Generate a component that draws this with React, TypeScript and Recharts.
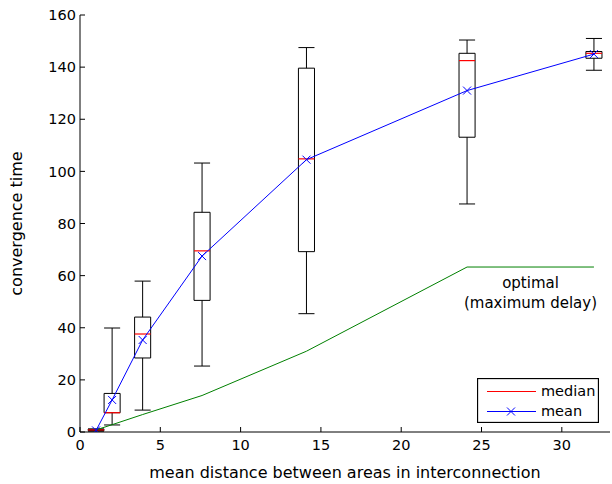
import React from 'react'
import {
  ComposedChart,
  Line,
  XAxis,
  YAxis,
  ReferenceArea,
  ReferenceLine,
  ReferenceDot,
  Legend,
  Label,
} from 'recharts'

// box statistics per mean distance
const distances = [1, 2, 3.9, 7.6, 14.1, 24.1, 32]
const whiskerLow = [0.3, 2.7, 8.4, 25.3, 45.4, 87.5, 138.8]
const quartile1 = [0.6, 7.4, 28.4, 50.5, 69.2, 113.1, 143.4]
const medians = [0.8, 7.4, 37.6, 69.5, 104.8, 142.5, 145.3]
const quartile3 = [1.0, 14.8, 44.1, 84.3, 139.6, 145.3, 146]
const whiskerHigh = [1.2, 39.9, 57.9, 103.2, 147.5, 150.4, 151]
const means = [0.6, 12.3, 35.3, 67.5, 104.5, 131, 145]

// optimal (maximum delay)
const optimalX = [1, 2, 3.9, 7.6, 14.1, 24.1, 32]
const optimalY = [0.8, 2.8, 6.7, 14, 31, 63.3, 63.3]

const xTicks = [0, 5, 10, 15, 20, 25, 30]
const yTicks = [0, 20, 40, 60, 80, 100, 120, 140, 160]

const FONT = 'DejaVu Sans'
const BOX_HALF = 0.5

const meanData = distances.map((x, i) => ({ x, y: means[i] }))
const optimalData = optimalX.map((x, i) => ({ x, y: optimalY[i] }))

function XMark({ cx, cy, color = '#0000ff' }: { cx: number; cy: number; color?: string }) {
  const s = 4
  return (
    <g>
      <line x1={cx - s} y1={cy - s} x2={cx + s} y2={cy + s} stroke={color} strokeWidth={1} />
      <line x1={cx - s} y1={cy + s} x2={cx + s} y2={cy - s} stroke={color} strokeWidth={1} />
    </g>
  )
}

function renderMeanDot(props: any) {
  const { cx, cy, index } = props
  if (cx == null || cy == null) return <g key={`d-${index}`} />
  return (
    <g key={`d-${index}`}>
      <XMark cx={cx} cy={cy} />
    </g>
  )
}

function LegendBox() {
  return (
    <svg width={122} height={45} style={{ display: 'block' }}>
      <rect x={0.5} y={0.5} width={121} height={44} fill="#fff" stroke="#000" strokeWidth={1.3} />
      <line x1={10} x2={59} y1={13.5} y2={13.5} stroke="#ff0000" strokeWidth={1.2} />
      <text x={64} y={18} fontFamily={FONT} fontSize={14.5} fill="#000">
        median
      </text>
      <line x1={10} x2={59} y1={33.5} y2={33.5} stroke="#0000ff" strokeWidth={1} />
      <XMark cx={34} cy={33.5} />
      <text x={64} y={38} fontFamily={FONT} fontSize={14.5} fill="#000">
        mean
      </text>
    </svg>
  )
}

function OptimalLabel(props: any) {
  const { x, y } = props.viewBox
  return (
    <g fontFamily={FONT} fontSize={15} fill="#000" textAnchor="middle">
      <text x={x} y={y + 21}>optimal</text>
      <text x={x} y={y + 41}>(maximum delay)</text>
    </g>
  )
}

function XLabel(props: any) {
  const { x, y, width } = props.viewBox
  return (
    <text x={x + width / 2} y={y + 46} textAnchor="middle" fontFamily={FONT} fontSize={16} fill="#000">
      mean distance between areas in interconnection
    </text>
  )
}

function YLabel(props: any) {
  const { x, y, height } = props.viewBox
  const cx = x + 22
  const cy = y + height / 2
  return (
    <text
      x={cx}
      y={cy}
      transform={`rotate(-90 ${cx} ${cy})`}
      textAnchor="middle"
      fontFamily={FONT}
      fontSize={16}
      fill="#000"
    >
      convergence time
    </text>
  )
}

export default function App() {
  return (
    <div style={{ position: 'absolute', left: 0, top: 0, width: 612, height: 484, background: '#fff' }}>
      <ComposedChart width={612} height={484} margin={{ top: 15, right: 2, bottom: 0, left: 0 }}>
        <XAxis
          dataKey="x"
          type="number"
          domain={[0, 33]}
          ticks={xTicks}
          interval={0}
          allowDataOverflow
          height={52}
          tickSize={-5}
          tickMargin={13}
          axisLine={{ stroke: '#000' }}
          tickLine={{ stroke: '#000' }}
          tick={{ fontSize: 14.5, fill: '#000', fontFamily: FONT }}
        >
          <Label content={<XLabel />} />
        </XAxis>
        <YAxis
          type="number"
          domain={[0, 160]}
          ticks={yTicks}
          interval={0}
          allowDataOverflow
          width={80}
          tickSize={-5}
          tickMargin={9}
          axisLine={{ stroke: '#000' }}
          tickLine={{ stroke: '#000' }}
          tick={{ fontSize: 14.5, fill: '#000', fontFamily: FONT }}
        >
          <Label content={<YLabel />} />
        </YAxis>

        {distances.map((x, i) => (
          <ReferenceArea
            key={`box-${i}`}
            x1={x - BOX_HALF}
            x2={x + BOX_HALF}
            y1={quartile1[i]}
            y2={quartile3[i]}
            fill="#fff"
            fillOpacity={0}
            stroke="#000"
            strokeWidth={1}
            strokeOpacity={1}
            ifOverflow="visible"
          />
        ))}
        {distances.map((x, i) => (
          <ReferenceLine
            key={`wl-${i}`}
            segment={[{ x, y: whiskerLow[i] }, { x, y: quartile1[i] }]}
            stroke="#000"
            strokeWidth={1}
            ifOverflow="visible"
          />
        ))}
        {distances.map((x, i) => (
          <ReferenceLine
            key={`wh-${i}`}
            segment={[{ x, y: quartile3[i] }, { x, y: whiskerHigh[i] }]}
            stroke="#000"
            strokeWidth={1}
            ifOverflow="visible"
          />
        ))}
        {distances.map((x, i) => (
          <ReferenceLine
            key={`cl-${i}`}
            segment={[{ x: x - BOX_HALF, y: whiskerLow[i] }, { x: x + BOX_HALF, y: whiskerLow[i] }]}
            stroke="#000"
            strokeWidth={1}
            ifOverflow="visible"
          />
        ))}
        {distances.map((x, i) => (
          <ReferenceLine
            key={`ch-${i}`}
            segment={[{ x: x - BOX_HALF, y: whiskerHigh[i] }, { x: x + BOX_HALF, y: whiskerHigh[i] }]}
            stroke="#000"
            strokeWidth={1}
            ifOverflow="visible"
          />
        ))}
        {distances.map((x, i) => (
          <ReferenceLine
            key={`md-${i}`}
            segment={[{ x: x - BOX_HALF, y: medians[i] }, { x: x + BOX_HALF, y: medians[i] }]}
            stroke="#ff0000"
            strokeWidth={1.2}
            ifOverflow="visible"
          />
        ))}

        <Line
          data={optimalData}
          dataKey="y"
          type="linear"
          stroke="#008000"
          strokeWidth={1}
          dot={false}
          isAnimationActive={false}
        />
        <Line
          data={meanData}
          dataKey="y"
          type="linear"
          stroke="#0000ff"
          strokeWidth={1}
          dot={renderMeanDot}
          activeDot={false}
          isAnimationActive={false}
        />
        <ReferenceDot
          x={28.05}
          y={optimalY[optimalY.length - 1]}
          r={0}
          fill="none"
          stroke="none"
          ifOverflow="visible"
          label={<OptimalLabel />}
        />
        <Legend
          layout="vertical"
          align="center"
          verticalAlign="middle"
          content={<LegendBox />}
          wrapperStyle={{ left: 477, top: 378, width: 122, height: 45 }}
        />
      </ComposedChart>
    </div>
  )
}
